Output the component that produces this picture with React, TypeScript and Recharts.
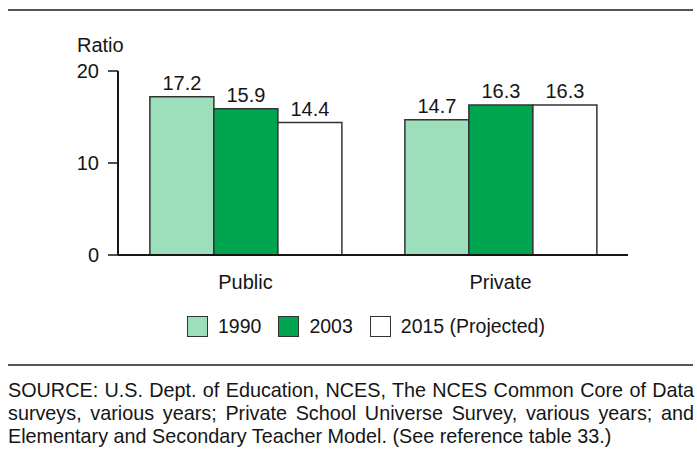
import { BarChart, Bar, XAxis, YAxis, LabelList } from "recharts";

const categories = ["Public", "Private"];
const values1990 = [17.2, 14.7];
const values2003 = [15.9, 16.3];
const values2015 = [14.4, 16.3];
const yTicks = [0, 10, 20];
const seriesNames = ["1990", "2003", "2015 (Projected)"];
const seriesColors = ["#9ddfbb", "#00a550", "#ffffff"];

const sourceNote =
  "SOURCE: U.S. Dept. of Education, NCES, The NCES Common Core of Data surveys, various years; Private School Universe Survey, various years; and Elementary and Secondary Teacher Model. (See reference table 33.)";

const data = categories.map((name, i) => ({
  name,
  y1990: values1990[i],
  y2003: values2003[i],
  y2015: values2015[i],
}));

const keys = ["y1990", "y2003", "y2015"];
const ink = "#151515";
const font = '"Liberation Sans", Arial, Helvetica, sans-serif';

export default function App() {
  return (
    <div
      style={{
        position: "relative",
        width: 697,
        height: 470,
        background: "#fff",
        fontFamily: font,
        color: ink,
      }}
    >
      <style>{`body{margin:0}`}</style>

      {/* top rule */}
      <div
        style={{
          position: "absolute",
          left: 8,
          top: 9,
          width: 685,
          height: 2,
          background: "#555",
        }}
      />

      <div
        style={{
          position: "absolute",
          left: 77,
          top: 35,
          fontSize: 20,
          lineHeight: "20px",
        }}
      >
        Ratio
      </div>

      <div style={{ position: "absolute", left: 0, top: 0 }}>
        <BarChart
          width={697}
          height={300}
          data={data}
          margin={{ top: 71, right: 69, left: 58, bottom: 5 }}
          barCategoryGap="12.5%"
          barGap={0}
        >
          <XAxis
            dataKey="name"
            axisLine={{ stroke: ink, strokeWidth: 2 }}
            tickLine={false}
            tickSize={6}
            tickMargin={14}
            height={40}
            tick={{ fill: ink, fontSize: 20, fontFamily: font }}
          />
          <YAxis
            domain={[0, 20]}
            ticks={yTicks}
            width={60}
            axisLine={{ stroke: ink, strokeWidth: 2 }}
            tickLine={{ stroke: ink, strokeWidth: 1.5 }}
            tickSize={10}
            tickMargin={9}
            tick={{ fill: ink, fontSize: 20, fontFamily: font }}
          />
          {keys.map((k, i) => (
            <Bar
              key={k}
              dataKey={k}
              fill={seriesColors[i]}
              stroke="#333"
              strokeWidth={1.5}
              isAnimationActive={false}
            >
              <LabelList
                dataKey={k}
                position="top"
                offset={7}
                fill={ink}
                fontSize={20}
                fontFamily={font}
                formatter={(v: any) => Number(v).toFixed(1)}
              />
            </Bar>
          ))}
        </BarChart>
      </div>

      {/* legend */}
      <div
        style={{
          position: "absolute",
          left: 187,
          top: 315,
          display: "flex",
          alignItems: "center",
          fontSize: 19.5,
          lineHeight: "22px",
        }}
      >
        {seriesNames.map((n, i) => (
          <div
            key={n}
            style={{
              display: "flex",
              alignItems: "center",
              marginRight: i < seriesNames.length - 1 ? 17 : 0,
            }}
          >
            <div
              style={{
                width: 19,
                height: 19,
                background: seriesColors[i],
                border: "1.5px solid #333",
                marginRight: 10,
              }}
            />
            <span>{n}</span>
          </div>
        ))}
      </div>

      {/* bottom rule */}
      <div
        style={{
          position: "absolute",
          left: 8,
          top: 364,
          width: 685,
          height: 2,
          background: "#555",
        }}
      />

      <div
        style={{
          position: "absolute",
          left: 8,
          top: 379,
          width: 686,
          fontSize: 19.8,
          lineHeight: "23px",
          textAlign: "justify",
        }}
      >
        {sourceNote}
      </div>
    </div>
  );
}
